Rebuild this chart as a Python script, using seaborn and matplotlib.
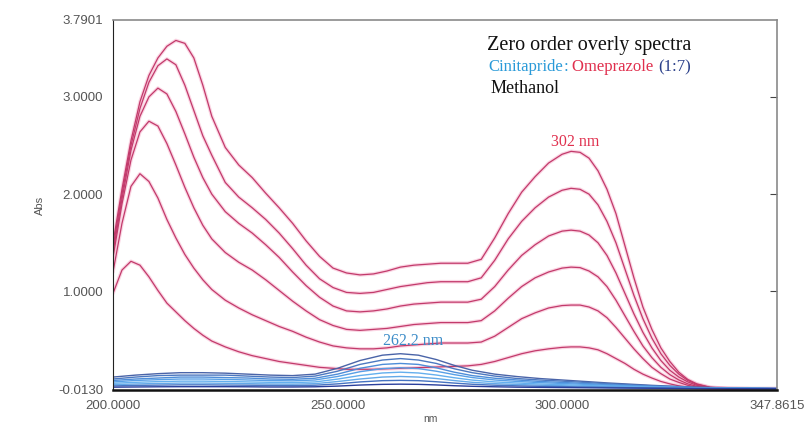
#!/usr/bin/env python3
"""Zero order overlay UV spectra: Cinitapride / Omeprazole (1:7) in methanol."""

import pandas as pd
import matplotlib
matplotlib.use("Agg")
import matplotlib.pyplot as plt
import seaborn as sns

# wavelength grid (nm) for the omeprazole spectra
wl_omep = [200, 202, 204, 206, 208, 210, 212, 214, 216, 218, 220, 222,
           225, 228, 231, 234, 237, 240, 243, 246, 249, 252, 255, 258, 261, 264,
           267, 270, 273, 276, 279, 282,
           285, 288, 291, 294, 297,
           300, 302, 304, 306, 308, 310, 312, 314, 316, 318, 320, 322, 324, 326, 328, 330,
           333, 337, 342, 347.8615]

omep_1 = [1.50, 2.05, 2.55, 2.95, 3.22, 3.40, 3.52, 3.58, 3.55, 3.40, 3.12, 2.80,
          2.48, 2.30, 2.17, 2.01, 1.86, 1.70, 1.52, 1.36, 1.24, 1.19, 1.17, 1.18, 1.21, 1.25,
          1.27, 1.28, 1.29, 1.29, 1.29, 1.33,
          1.55, 1.80, 2.02, 2.18, 2.32,
          2.41, 2.44, 2.43, 2.37, 2.24, 2.05, 1.80, 1.47, 1.14, 0.84, 0.61, 0.42, 0.28, 0.17, 0.095, 0.05,
          0.015, 0.003, 0.0, 0.0]
omep_2 = [1.45, 2.00, 2.50, 2.88, 3.15, 3.32, 3.39, 3.33, 3.12, 2.86, 2.60, 2.40,
          2.12, 1.97, 1.86, 1.74, 1.60, 1.44, 1.27, 1.13, 1.04, 0.99, 0.98, 0.99, 1.02, 1.05,
          1.07, 1.09, 1.10, 1.10, 1.10, 1.14,
          1.32, 1.54, 1.72, 1.86, 1.97,
          2.04, 2.06, 2.05, 2.00, 1.89, 1.72, 1.50, 1.23, 0.96, 0.72, 0.52, 0.36, 0.24, 0.15, 0.085, 0.045,
          0.013, 0.003, 0.0, 0.0]
omep_3 = [1.40, 1.95, 2.45, 2.80, 3.00, 3.09, 3.03, 2.85, 2.62, 2.38, 2.17, 2.00,
          1.82, 1.70, 1.60, 1.48, 1.35, 1.20, 1.06, 0.94, 0.85, 0.80, 0.79, 0.80, 0.82, 0.85,
          0.87, 0.88, 0.89, 0.89, 0.89, 0.92,
          1.05, 1.22, 1.37, 1.48, 1.57,
          1.62, 1.63, 1.62, 1.58, 1.50, 1.37, 1.19, 0.98, 0.77, 0.58, 0.42, 0.29, 0.19, 0.12, 0.07, 0.035,
          0.01, 0.002, 0.0, 0.0]
omep_4 = [1.35, 1.90, 2.35, 2.64, 2.75, 2.70, 2.52, 2.30, 2.07, 1.86, 1.68, 1.54,
          1.40, 1.30, 1.22, 1.12, 1.01, 0.90, 0.80, 0.71, 0.65, 0.61, 0.60, 0.61, 0.62, 0.64,
          0.66, 0.67, 0.68, 0.68, 0.68, 0.70,
          0.80, 0.93, 1.05, 1.14, 1.20,
          1.24, 1.25, 1.245, 1.21, 1.15, 1.05, 0.91, 0.75, 0.59, 0.44, 0.32, 0.22, 0.145, 0.09, 0.05, 0.025,
          0.008, 0.001, 0.0, 0.0]
omep_5 = [1.20, 1.70, 2.08, 2.21, 2.13, 1.96, 1.74, 1.55, 1.38, 1.24, 1.12, 1.02,
          0.91, 0.83, 0.76, 0.70, 0.64, 0.59, 0.53, 0.48, 0.44, 0.42, 0.41, 0.41, 0.42, 0.44,
          0.45, 0.46, 0.47, 0.47, 0.47, 0.48,
          0.54, 0.63, 0.72, 0.78, 0.83,
          0.855, 0.86, 0.86, 0.84, 0.80, 0.73, 0.63, 0.52, 0.41, 0.31, 0.22, 0.155, 0.10, 0.065, 0.035, 0.018,
          0.005, 0.0, 0.0, 0.0]
omep_6 = [0.98, 1.22, 1.31, 1.27, 1.15, 1.01, 0.88, 0.79, 0.70, 0.62, 0.55, 0.49,
          0.43, 0.38, 0.34, 0.31, 0.28, 0.26, 0.24, 0.22, 0.21, 0.20, 0.20, 0.20, 0.205, 0.21,
          0.215, 0.22, 0.225, 0.23, 0.235, 0.25,
          0.28, 0.32, 0.36, 0.39, 0.41,
          0.425, 0.43, 0.43, 0.42, 0.40, 0.36, 0.31, 0.26, 0.20, 0.15, 0.11, 0.075, 0.05, 0.03, 0.017, 0.008,
          0.002, 0.0, 0.0, 0.0]

# wavelength grid (nm) for the cinitapride spectra
wl_cini = [200, 205, 210, 215, 220, 225, 230, 235, 240, 245, 250, 255, 260, 264,
           268, 272, 276, 280, 285, 290, 295, 300, 310, 320, 330, 347.8615]

cini_1 = [0.12, 0.14, 0.155, 0.165, 0.165, 0.16, 0.15, 0.14, 0.135, 0.15, 0.21, 0.29, 0.345, 0.36,
          0.345, 0.30, 0.24, 0.19, 0.15, 0.125, 0.105, 0.09, 0.06, 0.035, 0.015, 0.003]
cini_2 = [0.10, 0.12, 0.135, 0.14, 0.14, 0.14, 0.13, 0.12, 0.115, 0.13, 0.18, 0.25, 0.295, 0.31,
          0.295, 0.26, 0.205, 0.165, 0.13, 0.105, 0.09, 0.078, 0.052, 0.03, 0.013, 0.002]
cini_3 = [0.085, 0.10, 0.11, 0.12, 0.12, 0.115, 0.11, 0.10, 0.097, 0.108, 0.15, 0.21, 0.25, 0.26,
          0.25, 0.215, 0.17, 0.135, 0.108, 0.09, 0.075, 0.065, 0.043, 0.025, 0.011, 0.002]
cini_4 = [0.07, 0.085, 0.093, 0.10, 0.10, 0.096, 0.09, 0.084, 0.081, 0.09, 0.126, 0.175, 0.207, 0.216,
          0.207, 0.18, 0.145, 0.115, 0.09, 0.075, 0.063, 0.054, 0.036, 0.021, 0.009, 0.002]
cini_5 = [0.056, 0.066, 0.073, 0.078, 0.078, 0.075, 0.07, 0.066, 0.063, 0.07, 0.099, 0.136, 0.162, 0.17,
          0.162, 0.141, 0.113, 0.089, 0.07, 0.059, 0.049, 0.042, 0.028, 0.016, 0.007, 0.001]
cini_6 = [0.042, 0.049, 0.054, 0.058, 0.058, 0.056, 0.052, 0.049, 0.047, 0.052, 0.074, 0.10, 0.12, 0.126,
          0.12, 0.105, 0.084, 0.066, 0.052, 0.044, 0.037, 0.031, 0.021, 0.012, 0.005, 0.001]
cini_7 = [0.029, 0.034, 0.037, 0.04, 0.04, 0.038, 0.036, 0.034, 0.032, 0.036, 0.05, 0.07, 0.083, 0.086,
          0.083, 0.072, 0.058, 0.046, 0.036, 0.03, 0.025, 0.022, 0.014, 0.008, 0.004, 0.0]
cini_8 = [0.016, 0.018, 0.02, 0.021, 0.021, 0.021, 0.02, 0.018, 0.018, 0.02, 0.027, 0.038, 0.045, 0.047,
          0.045, 0.039, 0.031, 0.025, 0.02, 0.016, 0.014, 0.012, 0.008, 0.005, 0.002, 0.0]

x_ticks = [200.0, 250.0, 300.0, 347.8615]
y_ticks = [-0.0130, 1.0, 2.0, 3.0, 3.7901]


def build_frame(wl, series, prefix):
    """Stack the spectra into one long table."""
    frames = []
    for i, vals in enumerate(series):
        frames.append(pd.DataFrame({'nm': wl, 'abs': vals, 'curve': f'{prefix}{i}'}))
    return pd.concat(frames, ignore_index=True)


def main():
    sns.set_style("white")
    plt.rcParams['font.family'] = ['Liberation Sans', 'DejaVu Sans']

    omep = build_frame(wl_omep, [omep_1, omep_2, omep_3, omep_4, omep_5, omep_6], 'o')
    cini = build_frame(wl_cini, [cini_1, cini_2, cini_3, cini_4, cini_5, cini_6, cini_7, cini_8], 'c')

    fig = plt.figure(figsize=(8.05, 4.25), dpi=100)
    ax = fig.add_axes([113 / 805, 35 / 425, 664 / 805, 370 / 425])

    # soft pink halo, then the thin darker line on top
    pink_halo = {c: '#f6a3c2' for c in omep['curve'].unique()}
    pink_line = {c: '#c23a6b' for c in omep['curve'].unique()}
    sns.lineplot(data=omep, x='nm', y='abs', hue='curve', palette=pink_halo,
                 legend=False, sort=False, estimator=None, lw=2.6, alpha=0.45, ax=ax)
    sns.lineplot(data=omep, x='nm', y='abs', hue='curve', palette=pink_line,
                 legend=False, sort=False, estimator=None, lw=0.9, ax=ax)

    blues = sns.blend_palette(['#4a64a8', '#4f94e0', '#6cbaf4', '#2a3f9c'], 8)
    sns.lineplot(data=cini, x='nm', y='abs', hue='curve', palette=blues,
                 legend=False, sort=False, estimator=None, lw=1.0, ax=ax)

    ax.set_xlim(x_ticks[0], x_ticks[-1])
    ax.set_ylim(y_ticks[0], y_ticks[-1])
    ax.set_xticks(x_ticks)
    ax.set_xticklabels([f'{v:.4f}' for v in x_ticks])
    ax.set_yticks(y_ticks)
    ax.set_yticklabels([f'{v:.4f}' for v in y_ticks])
    ax.tick_params(axis='x', direction='in', length=3, pad=7, labelsize=9.5, labelcolor='#555555')
    ax.tick_params(axis='y', direction='out', length=4, pad=3, labelsize=9.5, labelcolor='#555555')
    ax.set_xlabel('')
    ax.set_ylabel('')

    right = ax.secondary_yaxis('right')
    right.set_yticks(y_ticks[1:-1])
    right.set_yticklabels([])
    right.tick_params(direction='in', length=5, color='#444444')
    right.spines['right'].set_visible(False)

    for side in ['top', 'right']:
        ax.spines[side].set_color('#8a8a8a')
        ax.spines[side].set_linewidth(1.2)
    ax.spines['left'].set_color('#222222')
    ax.spines['bottom'].set_color('#111111')
    ax.spines['bottom'].set_linewidth(1.8)

    fig.text(40 / 805, 1 - 205 / 425, 'Abs', rotation=90, ha='center', va='center',
             fontsize=8, color='#555555')
    fig.text(430 / 805, 1 - 419 / 425, 'nm', ha='center', va='center',
             fontsize=7.5, color='#555555')

    # annotation block, serif like the original
    serif = ['Liberation Serif', 'DejaVu Serif']
    ax.text(0.563, 0.932, 'Zero order overly spectra', transform=ax.transAxes,
            family=serif, fontsize=14.5, color='#111111', va='center', ha='left')
    t1 = ax.text(0.566, 0.873, 'Cinitapride', transform=ax.transAxes,
                 family=serif, fontsize=12, color='#2a9ad8', va='center', ha='left')
    t2 = ax.annotate(': ', xy=(1, 0), xycoords=t1, va='bottom', ha='left',
                     family=serif, fontsize=12, color='#2a9ad8')
    t3 = ax.annotate('Omeprazole ', xy=(1, 0), xycoords=t2, va='bottom', ha='left',
                     family=serif, fontsize=12, color='#e0304e')
    ax.annotate('(1:7)', xy=(1, 0), xycoords=t3, va='bottom', ha='left',
                family=serif, fontsize=12, color='#2a3f8a')
    ax.text(0.568, 0.816, 'Methanol', transform=ax.transAxes,
            family=serif, fontsize=13, color='#111111', va='center', ha='left')

    ax.text(0.696, 0.670, '302 nm', transform=ax.transAxes,
            family=serif, fontsize=11.5, color='#e0304e', va='center', ha='center')
    ax.text(0.452, 0.132, '262.2 nm', transform=ax.transAxes,
            family=serif, fontsize=11.5, color='#3c8cc8', va='center', ha='center')

    fig.savefig('out.png', dpi=100)


if __name__ == "__main__":
    main()
